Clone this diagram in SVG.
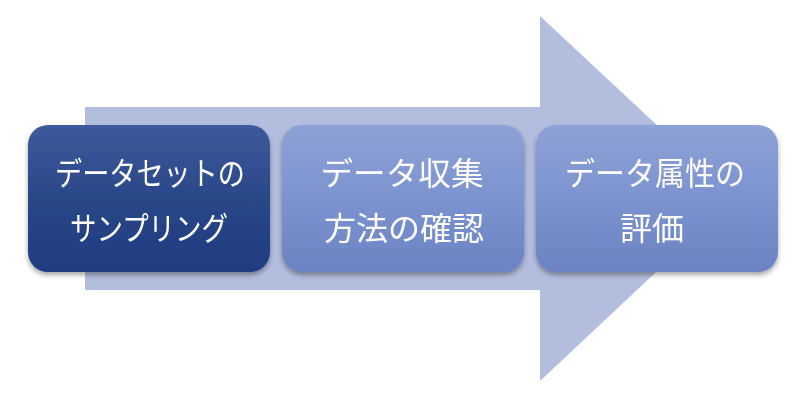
<svg xmlns="http://www.w3.org/2000/svg" width="800" height="405" viewBox="0 0 800 405">
<defs>
<linearGradient id="gDark" x1="0" y1="0" x2="0" y2="1">
<stop offset="0" stop-color="#3f5a9c"/>
<stop offset="0.5" stop-color="#2a4788"/>
<stop offset="1" stop-color="#1f3c80"/>
</linearGradient>
<linearGradient id="gLight" x1="0" y1="0" x2="0" y2="1">
<stop offset="0" stop-color="#8fa2d6"/>
<stop offset="0.5" stop-color="#7c93d0"/>
<stop offset="1" stop-color="#6b83c2"/>
</linearGradient>
<filter id="sh" x="-10%" y="-10%" width="120%" height="130%">
<feDropShadow dx="0" dy="3" stdDeviation="2.5" flood-color="#000" flood-opacity="0.35"/>
</filter>
</defs>
<style>
.t{font-family:"Noto Sans CJK JP","Noto Sans CJK SC",sans-serif;font-size:32px;fill:#fff;text-anchor:middle}
</style>
<rect width="800" height="405" fill="#fff"/>
<g id="arrow">
<polygon points="85,107 540,107 540,16 735,198 540,381 540,290 85,290" fill="#b3bedf"/>
</g>
<g id="connectors"/>
<g id="node1" filter="url(#sh)">
<rect x="28" y="125" width="242" height="147" rx="20" fill="url(#gDark)"/>
<text class="t" x="150" y="185" textLength="190" lengthAdjust="spacingAndGlyphs">データセットの</text>
<text class="t" x="149" y="240" textLength="158" lengthAdjust="spacingAndGlyphs">サンプリング</text>
</g>
<g id="node2" filter="url(#sh)">
<rect x="282" y="125" width="242" height="147" rx="20" fill="url(#gLight)"/>
<text class="t" x="402" y="185" textLength="163" lengthAdjust="spacingAndGlyphs">データ収集</text>
<text class="t" x="404" y="240">方法の確認</text>
</g>
<g id="node3" filter="url(#sh)">
<rect x="536" y="125" width="242" height="147" rx="20" fill="url(#gLight)"/>
<text class="t" x="655" y="185" textLength="180" lengthAdjust="spacingAndGlyphs">データ属性の</text>
<text class="t" x="652" y="240">評価</text>
</g>
</svg>
